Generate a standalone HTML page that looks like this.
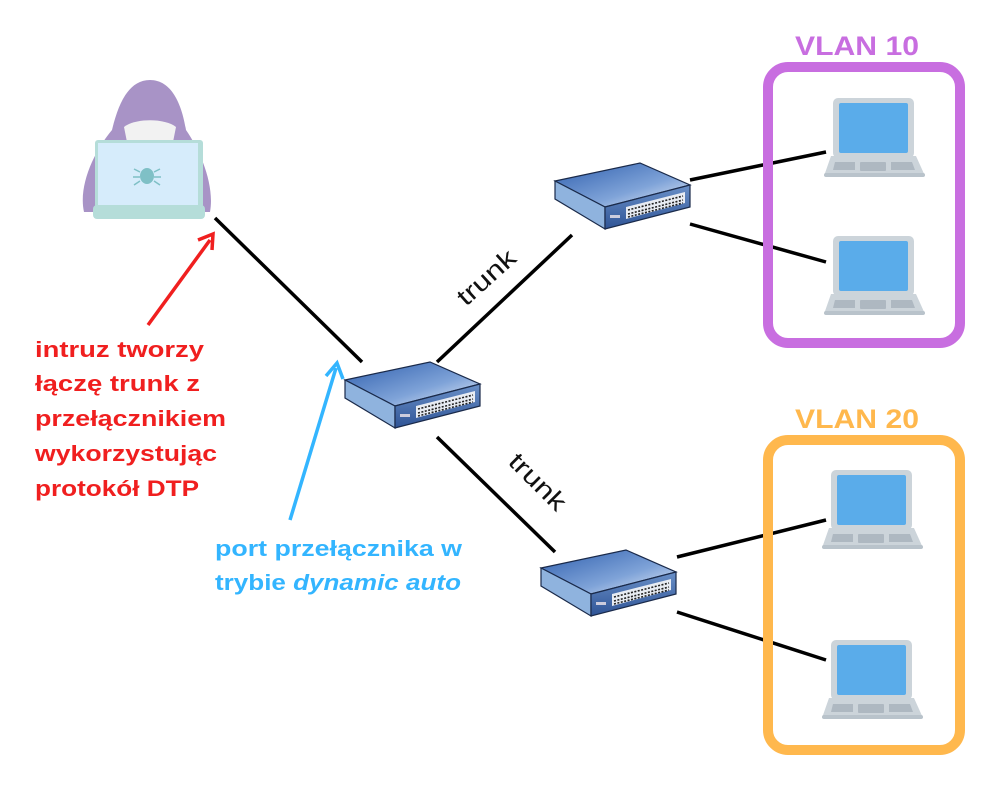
<!DOCTYPE html>
<html><head><meta charset="utf-8"><style>
html,body{margin:0;padding:0;background:#fff;}
svg{display:block;}
</style></head><body>
<svg width="1000" height="800" viewBox="0 0 1000 800" xmlns="http://www.w3.org/2000/svg" font-family="Liberation Sans, DejaVu Sans, sans-serif">
<defs>
<linearGradient id="sg" x1="0" y1="0" x2="1" y2="1">
<stop offset="0" stop-color="#2f5fae"/><stop offset="0.6" stop-color="#7fa3d8"/><stop offset="1" stop-color="#e8eef8"/>
</linearGradient>
<linearGradient id="fg" x1="0" y1="0" x2="0" y2="1">
<stop offset="0" stop-color="#6a90c8"/><stop offset="1" stop-color="#2f5496"/>
</linearGradient>
<g id="sw">
<polygon points="0,18 85,0 135,22 50,44" fill="url(#sg)" stroke="#1a2a4a" stroke-width="1.2"/>
<polygon points="0,18 50,44 50,66 0,36" fill="#8fb3de" stroke="#1a2a4a" stroke-width="1.2"/>
<polygon points="50,44 135,22 135,44 50,66" fill="url(#fg)" stroke="#1a2a4a" stroke-width="1.2"/>
<polygon points="71,44 130,29 130,40 71,56" fill="#e8ecf3"/>
<path d="M73,47 L128,33 M73,51 L128,37 M73,54 L128,40" stroke="#222" stroke-width="1.6" stroke-dasharray="2,1.5"/>
<rect x="55" y="52" width="10" height="3" fill="#ccd"/>
</g>
<g id="lap">
<rect x="0" y="0" width="81" height="60" rx="5" fill="#ccd4da"/>
<rect x="6" y="5" width="69" height="50" rx="2" fill="#5aacea"/>
<polygon points="-2,58 83,58 92,78 -9,78" fill="#ccd4da"/>
<rect x="-9" y="75" width="101" height="4" rx="2" fill="#b9c3cb"/>
<polygon points="2,64 22,64 22,72 0,72" fill="#aeb8c1"/>
<rect x="27" y="64" width="26" height="9" rx="1" fill="#aeb8c1"/>
<polygon points="58,64 79,64 82,72 58,72" fill="#aeb8c1"/>
</g>
</defs>

<!-- hacker -->
<path d="M150,80 C172,80 182,105 186,130 C200,150 215,185 210,212 L84,212 C78,185 95,150 112,130 C118,105 128,80 150,80 Z" fill="#a893c6"/>
<path d="M124,127 C135,118 165,118 176,127 L173,142 L127,142 Z" fill="#f2f2f2"/>
<rect x="95" y="140" width="108" height="68" rx="3" fill="#b5ddd9"/>
<rect x="98" y="143" width="100" height="62" fill="#d6ecfb"/>
<rect x="93" y="205" width="112" height="14" rx="4" fill="#b5ddd9"/>
<ellipse cx="147" cy="176" rx="7" ry="8" fill="#7fc0c6"/>
<path d="M140,172 l-6,-3 M140,177 l-7,0 M140,181 l-6,4 M154,172 l6,-3 M154,177 l7,0 M154,181 l6,4" stroke="#7fc0c6" stroke-width="1.5"/>

<!-- connectors -->
<g stroke="#000" stroke-width="3.5" stroke-linecap="butt">
<line x1="215" y1="218" x2="362" y2="362"/>
<line x1="437" y1="362" x2="572" y2="235"/>
<line x1="437" y1="437" x2="555" y2="552"/>
<line x1="690" y1="180" x2="826" y2="152"/>
<line x1="690" y1="224" x2="826" y2="262"/>
<line x1="677" y1="557" x2="826" y2="520"/>
<line x1="677" y1="612" x2="826" y2="660"/>
</g>

<use href="#sw" x="345" y="362"/>
<use href="#sw" x="555" y="163"/>
<use href="#sw" x="541" y="550"/>

<rect x="768" y="67" width="192" height="276" rx="20" fill="none" stroke="#c86ee0" stroke-width="10"/>
<rect x="768" y="440" width="192" height="310" rx="20" fill="none" stroke="#ffb84d" stroke-width="10"/>
<text x="795" y="55" font-size="27" font-weight="bold" fill="#c86ee0" textLength="124" lengthAdjust="spacingAndGlyphs">VLAN 10</text>
<text x="795" y="428" font-size="27" font-weight="bold" fill="#ffb84d" textLength="124" lengthAdjust="spacingAndGlyphs">VLAN 20</text>

<use href="#lap" x="833" y="98"/>
<use href="#lap" x="833" y="236"/>
<use href="#lap" x="831" y="470"/>
<use href="#lap" x="831" y="640"/>

<text transform="translate(466,307) rotate(-42)" font-size="25" fill="#111" textLength="70" lengthAdjust="spacingAndGlyphs">trunk</text>
<text transform="translate(507,463) rotate(45)" font-size="25" fill="#111" textLength="70" lengthAdjust="spacingAndGlyphs">trunk</text>

<!-- arrows -->
<line x1="148" y1="325" x2="210" y2="240" stroke="#f01f1f" stroke-width="3.5"/>
<path d="M198,240 L213,234 L212,250" fill="none" stroke="#f01f1f" stroke-width="3.5"/>
<line x1="290" y1="520" x2="336" y2="368" stroke="#33b5ff" stroke-width="3.5"/>
<path d="M326,376 L337,363 L343,379" fill="none" stroke="#33b5ff" stroke-width="3.5"/>

<g font-size="22" font-weight="bold" fill="#f01f1f">
<text x="35" y="357" textLength="169" lengthAdjust="spacingAndGlyphs">intruz tworzy</text>
<text x="35" y="391" textLength="165" lengthAdjust="spacingAndGlyphs">łączę trunk z</text>
<text x="35" y="426" textLength="191" lengthAdjust="spacingAndGlyphs">przełącznikiem</text>
<text x="35" y="461" textLength="182" lengthAdjust="spacingAndGlyphs">wykorzystując</text>
<text x="35" y="496" textLength="164" lengthAdjust="spacingAndGlyphs">protokół DTP</text>
</g>
<g font-size="22" font-weight="bold" fill="#33b5ff">
<text x="215" y="556" textLength="247" lengthAdjust="spacingAndGlyphs">port przełącznika w</text>
<text x="215" y="590" textLength="246" lengthAdjust="spacingAndGlyphs">trybie <tspan font-style="italic">dynamic auto</tspan></text>
</g>
</svg>
</body></html>
